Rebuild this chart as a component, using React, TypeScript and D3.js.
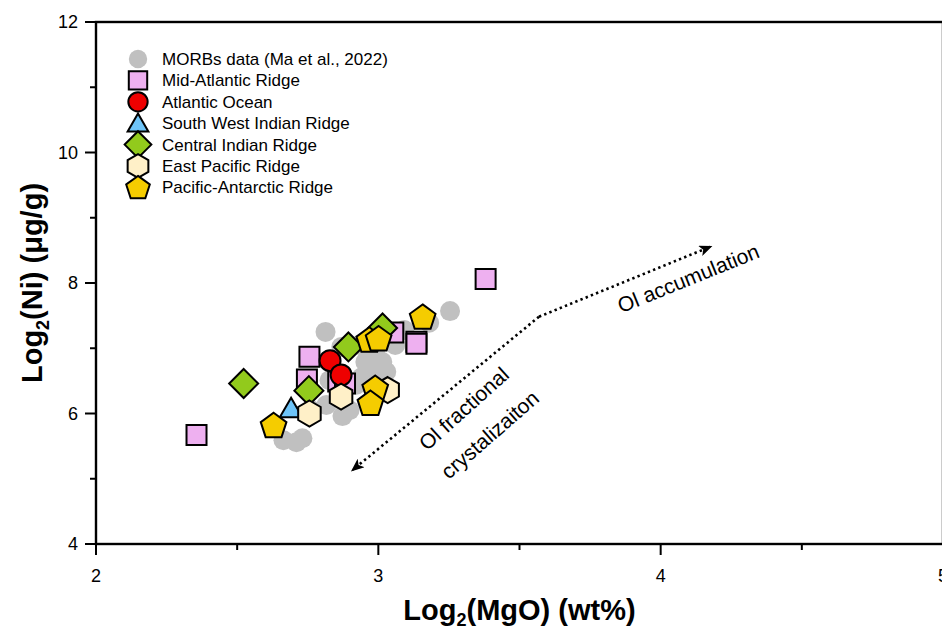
import React from "react";
import * as d3 from "d3";

// Log2(MgO) (wt%) vs Log2(Ni) (µg/g)
const morbX = [2.813, 3.254, 3.18, 2.869, 2.954, 3.014, 3.028, 2.968, 2.898, 2.873, 2.816, 2.664, 2.71, 2.731, 2.922, 2.763, 2.933, 3.06, 2.827, 3.092, 2.99, 2.94];
const morbY = [7.25, 7.57, 7.39, 7.02, 6.79, 6.79, 6.64, 6.67, 6.05, 5.96, 6.13, 5.59, 5.56, 5.62, 6.44, 6.05, 7.05, 7.05, 6.51, 7.28, 6.9, 6.55];

const marX = [2.356, 2.756, 2.747, 2.858, 2.882, 3.053, 3.135, 3.135, 3.38];
const marY = [5.67, 6.87, 6.52, 6.49, 6.46, 7.24, 7.1, 7.07, 8.06];

const atlX = [2.829, 2.868];
const atlY = [6.81, 6.59];

const swirX = [2.691];
const swirY = [6.08];

const cirX = [2.523, 2.754, 2.894, 3.015];
const cirY = [6.46, 6.35, 7.02, 7.31];

const eprX = [2.756, 2.868, 3.033];
const eprY = [6.0, 6.26, 6.36];

const parX = [2.629, 3.157, 2.968, 3.001, 2.989, 2.972];
const parY = [5.82, 7.48, 7.13, 7.15, 6.39, 6.16];

const xTicks = [2, 3, 4, 5];
const yTicks = [4, 6, 8, 10, 12];
const xMinor = [2.5, 3.5, 4.5];
const yMinor = [5, 7, 9, 11];

// dotted olivine trend: accumulation tip, bend, fractionation tip
const trendX = [4.176, 3.569, 2.909];
const trendY = [8.556, 7.483, 5.134];

type Shape = "circle" | "square" | "triangle" | "diamond" | "hexagon" | "pentagon";

const polygon = (n: number, r: number, rot: number) =>
  d3.range(n).map((i) => {
    const a = rot + (i * 2 * Math.PI) / n;
    return [r * Math.cos(a), r * Math.sin(a)] as [number, number];
  });

const shapePath = (shape: Shape): string => {
  const line = d3.line().curve(d3.curveLinearClosed);
  switch (shape) {
    case "square":
      return line([[-10, -10], [10, -10], [10, 10], [-10, 10]]) as string;
    case "triangle":
      return line(polygon(3, 13, -Math.PI / 2).map(([x, y]) => [x, y + 2.5] as [number, number])) as string;
    case "diamond":
      return line([[0, -14.5], [14.5, 0], [0, 14.5], [-14.5, 0]]) as string;
    case "hexagon":
      return line(polygon(6, 13, -Math.PI / 2)) as string;
    case "pentagon":
      return line(polygon(5, 13.5, -Math.PI / 2).map(([x, y]) => [x, y + 1] as [number, number])) as string;
    default:
      return "";
  }
};

const series: { name: string; xs: number[]; ys: number[]; shape: Shape; fill: string; stroke: boolean }[] = [
  { name: "MORBs data (Ma et al., 2022)", xs: morbX, ys: morbY, shape: "circle", fill: "#c0c0c0", stroke: false },
  { name: "Mid-Atlantic Ridge", xs: marX, ys: marY, shape: "square", fill: "#eeb0f0", stroke: true },
  { name: "Atlantic Ocean", xs: atlX, ys: atlY, shape: "circle", fill: "#ee0000", stroke: true },
  { name: "South West Indian Ridge", xs: swirX, ys: swirY, shape: "triangle", fill: "#6ec4f8", stroke: true },
  { name: "Central Indian Ridge", xs: cirX, ys: cirY, shape: "diamond", fill: "#92ca1c", stroke: true },
  { name: "East Pacific Ridge", xs: eprX, ys: eprY, shape: "hexagon", fill: "#fff0c8", stroke: true },
  { name: "Pacific-Antarctic Ridge", xs: parX, ys: parY, shape: "pentagon", fill: "#f5cc00", stroke: true },
];

const Marker = ({ shape, fill, stroke, x, y, scale = 1 }: { shape: Shape; fill: string; stroke: boolean; x: number; y: number; scale?: number }) => {
  const common = {
    fill,
    stroke: stroke ? "#000" : "none",
    strokeWidth: 2,
    strokeLinejoin: "miter" as const,
  };
  if (shape === "circle") {
    return <circle cx={x} cy={y} r={(stroke ? 10.5 : 10) * scale} {...common} />;
  }
  return <path d={shapePath(shape)} transform={`translate(${x},${y}) scale(${scale})`} {...common} strokeWidth={2 / scale} />;
};

export default function App() {
  const W = 942;
  const H = 632;
  const left = 96;
  const right = 943;
  const top = 22;
  const bottom = 544;

  const x = d3.scaleLinear().domain([2, 5]).range([left, right]);
  const y = d3.scaleLinear().domain([4, 12]).range([bottom, top]);

  const font = "Arial, 'Liberation Sans', sans-serif";

  const trendPts = trendX.map((v, i) => [x(v), y(trendY[i])] as [number, number]);
  const upperLeg = d3.line()([trendPts[1], trendPts[0]]) as string;
  const lowerLeg = d3.line()([trendPts[1], trendPts[2]]) as string;

  const legendX = 138;
  const legendY0 = 59;
  const legendDy = 21.4;

  return (
    <svg width={W} height={H} style={{ position: "absolute", left: 0, top: 0, background: "#fff" }} fontFamily={font}>
      <defs>
        <marker id="arrow" viewBox="0 0 12 10" refX="10" refY="5" markerWidth="14" markerHeight="11" markerUnits="userSpaceOnUse" orient="auto">
          <path d="M0,0 L12,5 L0,10 L3,5 Z" fill="#000" />
        </marker>
      </defs>

      {/* axis frame */}
      <rect x={left} y={top} width={right - left} height={bottom - top} fill="none" stroke="#000" strokeWidth={2.4} />

      {/* y ticks */}
      {yTicks.map((t) => (
        <g key={`yt${t}`}>
          <line x1={left - 11} x2={left} y1={y(t)} y2={y(t)} stroke="#000" strokeWidth={2} />
          <text x={left - 18} y={y(t)} dy="0.35em" textAnchor="end" fontSize={18}>
            {t}
          </text>
        </g>
      ))}
      {yMinor.map((t) => (
        <line key={`ym${t}`} x1={left - 6} x2={left} y1={y(t)} y2={y(t)} stroke="#000" strokeWidth={2} />
      ))}

      {/* x ticks */}
      {xTicks.map((t) => (
        <g key={`xt${t}`}>
          <line x1={x(t)} x2={x(t)} y1={bottom} y2={bottom + 11} stroke="#000" strokeWidth={2} />
          <text x={x(t)} y={bottom + 38} textAnchor="middle" fontSize={18}>
            {t}
          </text>
        </g>
      ))}
      {xMinor.map((t) => (
        <line key={`xm${t}`} x1={x(t)} x2={x(t)} y1={bottom} y2={bottom + 6} stroke="#000" strokeWidth={2} />
      ))}

      {/* axis titles */}
      <text x={(left + right) / 2} y={620} textAnchor="middle" fontSize={29} fontWeight="bold">
        Log
        <tspan fontSize={18} dy={6}>2</tspan>
        <tspan dy={-6}>(MgO) (wt%)</tspan>
      </text>
      <text transform={`translate(42,${(top + bottom) / 2}) rotate(-90)`} textAnchor="middle" fontSize={29} fontWeight="bold">
        Log
        <tspan fontSize={18} dy={7}>2</tspan>
        <tspan dy={-7}>(Ni) (μg/g)</tspan>
      </text>

      {/* data */}
      {series.map((s) => (
        <g key={s.name}>
          {s.xs.map((v, i) => (
            <Marker key={i} shape={s.shape} fill={s.fill} stroke={s.stroke} x={x(v)} y={y(s.ys[i])} />
          ))}
        </g>
      ))}

      {/* olivine trend arrows */}
      <path d={upperLeg} stroke="#000" strokeWidth={2.6} strokeDasharray="2.4 3.2" fill="none" markerEnd="url(#arrow)" />
      <path d={lowerLeg} stroke="#000" strokeWidth={2.6} strokeDasharray="2.4 3.2" fill="none" markerEnd="url(#arrow)" />

      <text transform="translate(689,280) rotate(-22)" textAnchor="middle" fontSize={21} dominantBaseline="middle">
        Ol accumulation
      </text>
      <text transform="translate(465,410) rotate(-42)" textAnchor="middle" fontSize={21} dominantBaseline="middle">
        Ol fractional
      </text>
      <text transform="translate(491,436) rotate(-41)" textAnchor="middle" fontSize={21} dominantBaseline="middle">
        crystalizaiton
      </text>

      {/* legend */}
      {series.map((s, i) => {
        const ly = legendY0 + i * legendDy;
        return (
          <g key={`lg${s.name}`}>
            <Marker shape={s.shape} fill={s.fill} stroke={s.stroke} x={legendX} y={ly} scale={0.92} />
            <text x={162} y={ly} dy="0.35em" fontSize={17}>
              {s.name}
            </text>
          </g>
        );
      })}
    </svg>
  );
}
